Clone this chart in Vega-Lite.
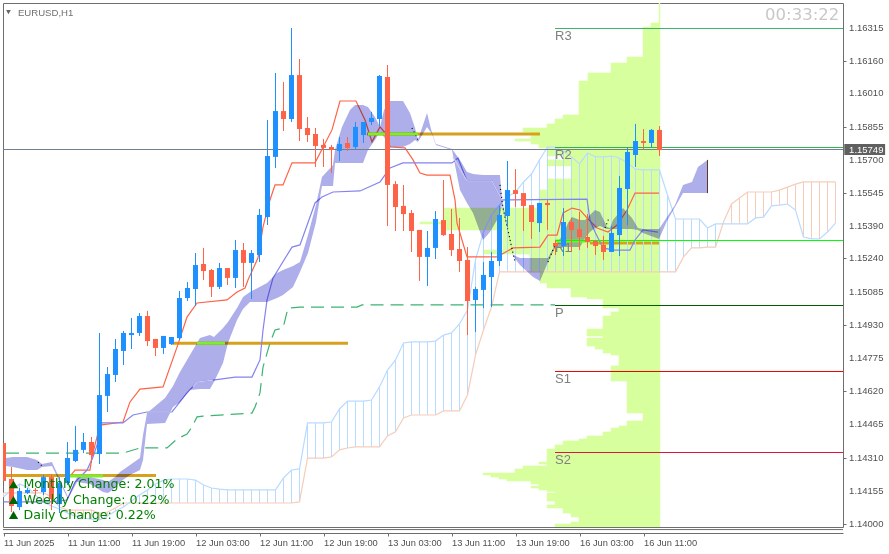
{
  "$schema": "https://vega.github.io/schema/vega-lite/v6.json",
  "width": 840,
  "height": 524,
  "autosize": {"type": "none"},
  "padding": {"left": 3, "top": 3, "right": 46, "bottom": 27},
  "background": "#ffffff",
  "config": {"view": {"stroke": "#6e6e6e", "strokeWidth": 1}},
  "datasets": {
    "candles": [
      {"i":0,"o":1.14378,"h":1.14378,"l":1.14201,"c":1.14201},
      {"i":1,"o":1.14210,"h":1.14266,"l":1.14056,"c":1.14084},
      {"i":2,"o":1.14079,"h":1.14168,"l":1.14065,"c":1.14154},
      {"i":3,"o":1.14145,"h":1.14168,"l":1.14140,"c":1.14159},
      {"i":4,"o":1.14159,"h":1.14168,"l":1.14135,"c":1.14154},
      {"i":5,"o":1.14149,"h":1.14229,"l":1.14135,"c":1.14219},
      {"i":6,"o":1.14219,"h":1.14233,"l":1.14065,"c":1.14117},
      {"i":7,"o":1.14093,"h":1.14219,"l":1.14051,"c":1.14191},
      {"i":8,"o":1.14191,"h":1.14383,"l":1.14182,"c":1.14308},
      {"i":9,"o":1.14294,"h":1.14458,"l":1.14289,"c":1.14346},
      {"i":10,"o":1.14346,"h":1.14425,"l":1.14331,"c":1.14383},
      {"i":11,"o":1.14383,"h":1.14406,"l":1.14285,"c":1.14322},
      {"i":12,"o":1.14327,"h":1.14892,"l":1.14280,"c":1.14602},
      {"i":13,"o":1.14598,"h":1.14733,"l":1.14523,"c":1.14700},
      {"i":14,"o":1.14696,"h":1.14864,"l":1.14663,"c":1.14817},
      {"i":15,"o":1.14808,"h":1.14901,"l":1.14742,"c":1.14892},
      {"i":16,"o":1.14882,"h":1.14962,"l":1.14817,"c":1.14892},
      {"i":17,"o":1.14892,"h":1.14985,"l":1.14878,"c":1.14971},
      {"i":18,"o":1.14971,"h":1.14995,"l":1.14831,"c":1.14854},
      {"i":19,"o":1.14864,"h":1.14864,"l":1.14784,"c":1.14822},
      {"i":20,"o":1.14822,"h":1.14878,"l":1.14794,"c":1.14878},
      {"i":21,"o":1.14840,"h":1.14873,"l":1.14836,"c":1.14873},
      {"i":22,"o":1.14868,"h":1.15088,"l":1.14859,"c":1.15055},
      {"i":23,"o":1.15055,"h":1.15130,"l":1.15041,"c":1.15102},
      {"i":24,"o":1.15097,"h":1.15265,"l":1.15018,"c":1.15209},
      {"i":25,"o":1.15214,"h":1.15289,"l":1.15139,"c":1.15181},
      {"i":26,"o":1.15186,"h":1.15191,"l":1.15060,"c":1.15107},
      {"i":27,"o":1.15107,"h":1.15219,"l":1.15097,"c":1.15195},
      {"i":28,"o":1.15195,"h":1.15195,"l":1.15116,"c":1.15149},
      {"i":29,"o":1.15149,"h":1.15326,"l":1.15102,"c":1.15279},
      {"i":30,"o":1.15279,"h":1.15312,"l":1.15107,"c":1.15219},
      {"i":31,"o":1.15219,"h":1.15279,"l":1.15051,"c":1.15265},
      {"i":32,"o":1.15256,"h":1.15471,"l":1.15223,"c":1.15443},
      {"i":33,"o":1.15433,"h":1.15886,"l":1.15396,"c":1.15718},
      {"i":34,"o":1.15714,"h":1.16106,"l":1.15662,"c":1.15928},
      {"i":35,"o":1.15928,"h":1.16064,"l":1.15835,"c":1.15891},
      {"i":36,"o":1.15891,"h":1.16316,"l":1.15877,"c":1.16096},
      {"i":37,"o":1.16096,"h":1.16171,"l":1.15788,"c":1.15844},
      {"i":38,"o":1.15849,"h":1.15900,"l":1.15784,"c":1.15816},
      {"i":39,"o":1.15821,"h":1.15849,"l":1.15667,"c":1.15765},
      {"i":40,"o":1.15770,"h":1.15798,"l":1.15667,"c":1.15756},
      {"i":41,"o":1.15760,"h":1.15770,"l":1.15639,"c":1.15746},
      {"i":42,"o":1.15742,"h":1.15807,"l":1.15695,"c":1.15774},
      {"i":43,"o":1.15779,"h":1.15807,"l":1.15742,"c":1.15756},
      {"i":44,"o":1.15760,"h":1.15877,"l":1.15751,"c":1.15854},
      {"i":45,"o":1.15816,"h":1.15877,"l":1.15779,"c":1.15877},
      {"i":46,"o":1.15877,"h":1.15924,"l":1.15863,"c":1.15896},
      {"i":47,"o":1.15891,"h":1.16096,"l":1.15858,"c":1.16092},
      {"i":48,"o":1.16087,"h":1.16143,"l":1.15391,"c":1.15583},
      {"i":49,"o":1.15587,"h":1.15601,"l":1.15368,"c":1.15480},
      {"i":50,"o":1.15485,"h":1.15583,"l":1.15368,"c":1.15447},
      {"i":51,"o":1.15452,"h":1.15466,"l":1.15270,"c":1.15368},
      {"i":52,"o":1.15373,"h":1.15373,"l":1.15135,"c":1.15247},
      {"i":53,"o":1.15247,"h":1.15368,"l":1.15111,"c":1.15289},
      {"i":54,"o":1.15289,"h":1.15461,"l":1.15237,"c":1.15424},
      {"i":55,"o":1.15419,"h":1.15606,"l":1.15345,"c":1.15349},
      {"i":56,"o":1.15354,"h":1.15471,"l":1.15251,"c":1.15279},
      {"i":57,"o":1.15284,"h":1.15429,"l":1.15177,"c":1.15228},
      {"i":58,"o":1.15233,"h":1.15293,"l":1.14882,"c":1.15041},
      {"i":59,"o":1.15046,"h":1.15107,"l":1.14896,"c":1.15097},
      {"i":60,"o":1.15093,"h":1.15223,"l":1.15008,"c":1.15163},
      {"i":61,"o":1.15153,"h":1.15270,"l":1.15013,"c":1.15228},
      {"i":62,"o":1.15228,"h":1.15485,"l":1.15205,"c":1.15443},
      {"i":63,"o":1.15438,"h":1.15695,"l":1.15387,"c":1.15559},
      {"i":64,"o":1.15559,"h":1.15657,"l":1.15480,"c":1.15541},
      {"i":65,"o":1.15545,"h":1.15545,"l":1.15368,"c":1.15485},
      {"i":66,"o":1.15489,"h":1.15489,"l":1.15331,"c":1.15410},
      {"i":67,"o":1.15405,"h":1.15499,"l":1.15363,"c":1.15499},
      {"i":68,"o":1.15499,"h":1.15513,"l":1.15373,"c":1.15489},
      {"i":69,"o":1.15312,"h":1.15326,"l":1.15256,"c":1.15298},
      {"i":70,"o":1.15298,"h":1.15475,"l":1.15251,"c":1.15410},
      {"i":71,"o":1.15410,"h":1.15429,"l":1.15270,"c":1.15373},
      {"i":72,"o":1.15377,"h":1.15457,"l":1.15279,"c":1.15340},
      {"i":73,"o":1.15340,"h":1.15447,"l":1.15289,"c":1.15317},
      {"i":74,"o":1.15321,"h":1.15326,"l":1.15256,"c":1.15298},
      {"i":75,"o":1.15303,"h":1.15345,"l":1.15233,"c":1.15270},
      {"i":76,"o":1.15270,"h":1.15391,"l":1.15270,"c":1.15359},
      {"i":77,"o":1.15349,"h":1.15625,"l":1.15251,"c":1.15569},
      {"i":78,"o":1.15564,"h":1.15756,"l":1.15396,"c":1.15737},
      {"i":79,"o":1.15723,"h":1.15868,"l":1.15667,"c":1.15788},
      {"i":80,"o":1.15788,"h":1.15844,"l":1.15751,"c":1.15779},
      {"i":81,"o":1.15779,"h":1.15844,"l":1.15760,"c":1.15840},
      {"i":82,"o":1.15840,"h":1.15858,"l":1.15718,"c":1.15746}
    ],
    "ichimoku": [
      {"i":0,"a":1.14126,"b":1.14145},{"i":1,"a":1.14159,"b":1.14145},{"i":2,"a":1.14187,"b":1.14145},{"i":3,"a":1.14173,"b":1.14145},
      {"i":4,"a":1.14135,"b":1.14145},{"i":5,"a":1.14103,"b":1.14145},{"i":6,"a":1.14084,"b":1.14126},{"i":7,"a":1.14070,"b":1.14079},
      {"i":8,"a":1.14051,"b":1.14065},{"i":9,"a":1.14037,"b":1.14065},{"i":10,"a":1.14028,"b":1.14065},{"i":11,"a":1.14023,"b":1.14065},
      {"i":12,"a":1.14019,"b":1.14051},{"i":13,"a":1.14037,"b":1.14056},{"i":14,"a":1.14061,"b":1.14075},{"i":15,"a":1.14079,"b":1.14098},
      {"i":16,"a":1.14107,"b":1.14098},{"i":17,"a":1.14135,"b":1.14098},{"i":18,"a":1.14159,"b":1.14098},{"i":19,"a":1.14187,"b":1.14098},
      {"i":20,"a":1.14205,"b":1.14098},{"i":21,"a":1.14210,"b":1.14098},{"i":22,"a":1.14210,"b":1.14098},{"i":23,"a":1.14210,"b":1.14098},
      {"i":24,"a":1.14205,"b":1.14098},{"i":25,"a":1.14182,"b":1.14098},{"i":26,"a":1.14168,"b":1.14098},{"i":27,"a":1.14163,"b":1.14098},
      {"i":28,"a":1.14159,"b":1.14098},{"i":29,"a":1.14159,"b":1.14098},{"i":30,"a":1.14159,"b":1.14098},{"i":31,"a":1.14159,"b":1.14098},
      {"i":32,"a":1.14159,"b":1.14098},{"i":33,"a":1.14159,"b":1.14098},{"i":34,"a":1.14159,"b":1.14098},{"i":35,"a":1.14215,"b":1.14098},
      {"i":36,"a":1.14252,"b":1.14098},{"i":37,"a":1.14257,"b":1.14103},{"i":38,"a":1.14472,"b":1.14308},{"i":39,"a":1.14472,"b":1.14308},
      {"i":40,"a":1.14472,"b":1.14308},{"i":41,"a":1.14476,"b":1.14313},{"i":42,"a":1.14537,"b":1.14346},{"i":43,"a":1.14574,"b":1.14355},
      {"i":44,"a":1.14574,"b":1.14360},{"i":45,"a":1.14574,"b":1.14360},{"i":46,"a":1.14579,"b":1.14360},{"i":47,"a":1.14640,"b":1.14360},
      {"i":48,"a":1.14719,"b":1.14411},{"i":49,"a":1.14766,"b":1.14430},{"i":50,"a":1.14845,"b":1.14495},{"i":51,"a":1.14850,"b":1.14509},
      {"i":52,"a":1.14850,"b":1.14509},{"i":53,"a":1.14850,"b":1.14509},{"i":54,"a":1.14854,"b":1.14509},{"i":55,"a":1.14882,"b":1.14528},
      {"i":56,"a":1.14892,"b":1.14528},{"i":57,"a":1.14934,"b":1.14528},{"i":58,"a":1.14999,"b":1.14602},{"i":59,"a":1.15233,"b":1.14789},
      {"i":60,"a":1.15363,"b":1.14906},{"i":61,"a":1.15443,"b":1.15013},{"i":62,"a":1.15489,"b":1.15177},{"i":63,"a":1.15527,"b":1.15177},
      {"i":64,"a":1.15550,"b":1.15177},{"i":65,"a":1.15597,"b":1.15177},{"i":66,"a":1.15634,"b":1.15177},{"i":67,"a":1.15700,"b":1.15177},
      {"i":68,"a":1.15760,"b":1.15177},{"i":69,"a":1.15760,"b":1.15177},{"i":70,"a":1.15742,"b":1.15177},{"i":71,"a":1.15714,"b":1.15177},
      {"i":72,"a":1.15681,"b":1.15177},{"i":73,"a":1.15732,"b":1.15177},{"i":74,"a":1.15714,"b":1.15177},{"i":75,"a":1.15714,"b":1.15177},
      {"i":76,"a":1.15718,"b":1.15177},{"i":77,"a":1.15709,"b":1.15177},{"i":78,"a":1.15686,"b":1.15177},{"i":79,"a":1.15657,"b":1.15177},
      {"i":80,"a":1.15653,"b":1.15177},{"i":81,"a":1.15653,"b":1.15177},{"i":82,"a":1.15653,"b":1.15177},{"i":83,"a":1.15536,"b":1.15177},
      {"i":84,"a":1.15424,"b":1.15177},{"i":85,"a":1.15424,"b":1.15247},{"i":86,"a":1.15424,"b":1.15289},{"i":87,"a":1.15424,"b":1.15289},
      {"i":88,"a":1.15382,"b":1.15293},{"i":89,"a":1.15401,"b":1.15293},{"i":90,"a":1.15401,"b":1.15410},{"i":91,"a":1.15401,"b":1.15494},
      {"i":92,"a":1.15401,"b":1.15522},{"i":93,"a":1.15401,"b":1.15550},{"i":94,"a":1.15429,"b":1.15550},{"i":95,"a":1.15433,"b":1.15550},
      {"i":96,"a":1.15485,"b":1.15550},{"i":97,"a":1.15489,"b":1.15559},{"i":98,"a":1.15494,"b":1.15573},{"i":99,"a":1.15466,"b":1.15587},
      {"i":100,"a":1.15340,"b":1.15597},{"i":101,"a":1.15331,"b":1.15597},{"i":102,"a":1.15331,"b":1.15597},{"i":103,"a":1.15363,"b":1.15597},
      {"i":104,"a":1.15405,"b":1.15597}
    ],
    "cloud": [
      {"x":0.31,"top":1.14308,"bot":1.14271},{"x":1.19,"top":1.14313,"bot":1.14266},{"x":2.94,"top":1.14313,"bot":1.14252},
      {"x":4.19,"top":1.14299,"bot":1.14252},{"x":4.81,"top":1.14280,"bot":1.14266},{"x":6.06,"top":1.14289,"bot":1.14271},
      {"x":8.06,"top":1.14126,"bot":1.14117},{"x":9.19,"top":1.14219,"bot":1.14196},{"x":10.81,"top":1.14219,"bot":1.14187},
      {"x":12.44,"top":1.14205,"bot":1.14149},{"x":13.06,"top":1.14196,"bot":1.14145},{"x":13.94,"top":1.14219,"bot":1.14168},
      {"x":14.56,"top":1.14243,"bot":1.14196},{"x":15.81,"top":1.14275,"bot":1.14229},{"x":17.06,"top":1.14308,"bot":1.14252},
      {"x":17.44,"top":1.14416,"bot":1.14299},{"x":17.94,"top":1.14518,"bot":1.14467},{"x":20.19,"top":1.14588,"bot":1.14472},
      {"x":21.19,"top":1.14644,"bot":1.14546},{"x":22.06,"top":1.14710,"bot":1.14570},{"x":23.31,"top":1.14789,"bot":1.14626},
      {"x":24.56,"top":1.14868,"bot":1.14630},{"x":25.81,"top":1.14882,"bot":1.14630},{"x":26.31,"top":1.14873,"bot":1.14663},
      {"x":27.44,"top":1.14915,"bot":1.14752},{"x":28.06,"top":1.14943,"bot":1.14845},{"x":29.19,"top":1.15008,"bot":1.14952},
      {"x":29.94,"top":1.15060,"bot":1.15004},{"x":30.81,"top":1.15083,"bot":1.15037},{"x":32.94,"top":1.15125,"bot":1.15037},
      {"x":34.19,"top":1.15172,"bot":1.15055},{"x":34.94,"top":1.15186,"bot":1.15069},{"x":36.19,"top":1.15205,"bot":1.15107},
      {"x":37.06,"top":1.15223,"bot":1.15177},{"x":38.06,"top":1.15349,"bot":1.15265},{"x":39.06,"top":1.15489,"bot":1.15410},
      {"x":39.81,"top":1.15620,"bot":1.15578},{"x":41.19,"top":1.15676,"bot":1.15578},{"x":41.44,"top":1.15746,"bot":1.15686},
      {"x":42.31,"top":1.15854,"bot":1.15686},{"x":43.31,"top":1.15933,"bot":1.15686},{"x":43.94,"top":1.15956,"bot":1.15686},
      {"x":44.94,"top":1.15956,"bot":1.15686},{"x":45.56,"top":1.15947,"bot":1.15746},{"x":46.44,"top":1.15900,"bot":1.15793},
      {"x":47.06,"top":1.15854,"bot":1.15830},{"x":47.56,"top":1.15933,"bot":1.15807},{"x":48.31,"top":1.15975,"bot":1.15760},
      {"x":49.94,"top":1.15975,"bot":1.15760},{"x":50.81,"top":1.15919,"bot":1.15774},{"x":51.44,"top":1.15849,"bot":1.15793},
      {"x":51.81,"top":1.15793,"bot":1.15784},{"x":52.94,"top":1.15919,"bot":1.15854},{"x":53.56,"top":1.15826,"bot":1.15821},
      {"x":54.06,"top":1.15774,"bot":1.15770},{"x":56.06,"top":1.15751,"bot":1.15746},{"x":57.06,"top":1.15700,"bot":1.15559},
      {"x":57.94,"top":1.15643,"bot":1.15499},{"x":58.69,"top":1.15634,"bot":1.15452},{"x":59.94,"top":1.15629,"bot":1.15326},
      {"x":60.81,"top":1.15629,"bot":1.15363},{"x":62.06,"top":1.15629,"bot":1.15443},{"x":62.31,"top":1.15513,"bot":1.15489},
      {"x":62.94,"top":1.15396,"bot":1.15387},{"x":63.69,"top":1.15256,"bot":1.15251},{"x":64.56,"top":1.15242,"bot":1.15209},
      {"x":66.19,"top":1.15242,"bot":1.15153},{"x":67.06,"top":1.15242,"bot":1.15135},{"x":68.06,"top":1.15242,"bot":1.15223},
      {"x":68.94,"top":1.15303,"bot":1.15289},{"x":69.94,"top":1.15349,"bot":1.15293},{"x":70.56,"top":1.15405,"bot":1.15293},
      {"x":71.06,"top":1.15433,"bot":1.15293},{"x":72.06,"top":1.15419,"bot":1.15293},{"x":72.69,"top":1.15419,"bot":1.15335},
      {"x":73.31,"top":1.15443,"bot":1.15363},{"x":73.94,"top":1.15466,"bot":1.15382},{"x":74.56,"top":1.15457,"bot":1.15391},
      {"x":75.44,"top":1.15387,"bot":1.15377},{"x":75.81,"top":1.15382,"bot":1.15377},{"x":76.19,"top":1.15419,"bot":1.15377},
      {"x":77.44,"top":1.15475,"bot":1.15377},{"x":78.56,"top":1.15429,"bot":1.15377},{"x":79.31,"top":1.15382,"bot":1.15373},
      {"x":79.94,"top":1.15377,"bot":1.15359},{"x":81.94,"top":1.15377,"bot":1.15331},{"x":82.94,"top":1.15433,"bot":1.15415},
      {"x":83.94,"top":1.15489,"bot":1.15480},{"x":84.94,"top":1.15583,"bot":1.15545},{"x":86.06,"top":1.15597,"bot":1.15545},
      {"x":86.81,"top":1.15667,"bot":1.15545},{"x":88.0,"top":1.15700,"bot":1.15545}
    ],
    "profile": [
      {"hi":1.16433,"lo":1.16339,"from":81.94},{"hi":1.16339,"lo":1.16320,"from":80.94},{"hi":1.16320,"lo":1.16180,"from":79.94},
      {"hi":1.16180,"lo":1.16152,"from":77.94},{"hi":1.16152,"lo":1.16106,"from":75.94},{"hi":1.16106,"lo":1.16068,"from":73.06},
      {"hi":1.16068,"lo":1.15910,"from":71.94},{"hi":1.15910,"lo":1.15891,"from":69.94},{"hi":1.15891,"lo":1.15868,"from":68.94},
      {"hi":1.15868,"lo":1.15849,"from":67.94},{"hi":1.15849,"lo":1.15830,"from":64.94},{"hi":1.15830,"lo":1.15798,"from":65.94},
      {"hi":1.15798,"lo":1.15788,"from":63.94},{"hi":1.15788,"lo":1.15774,"from":65.94},{"hi":1.15774,"lo":1.15756,"from":66.94},
      {"hi":1.15756,"lo":1.15718,"from":67.94},{"hi":1.15718,"lo":1.15700,"from":69.94},{"hi":1.15700,"lo":1.15672,"from":67.94},
      {"hi":1.15672,"lo":1.15611,"from":70.94},{"hi":1.15611,"lo":1.15559,"from":67.94},{"hi":1.15559,"lo":1.15475,"from":66.94},
      {"hi":1.15475,"lo":1.15410,"from":55.06},{"hi":1.15410,"lo":1.15401,"from":52.06},{"hi":1.15401,"lo":1.15373,"from":55.06},
      {"hi":1.15373,"lo":1.15279,"from":62.44},{"hi":1.15279,"lo":1.15261,"from":59.94},{"hi":1.15261,"lo":1.15177,"from":65.81},
      {"hi":1.15177,"lo":1.15125,"from":67.06},
      {"hi":1.15125,"lo":1.15102,"from":67.94},{"hi":1.15102,"lo":1.15060,"from":70.94},{"hi":1.15060,"lo":1.15051,"from":72.94},
      {"hi":1.15051,"lo":1.15008,"from":74.94},{"hi":1.15008,"lo":1.14990,"from":76.94},{"hi":1.14990,"lo":1.14971,"from":75.94},
      {"hi":1.14971,"lo":1.14910,"from":74.94},{"hi":1.14910,"lo":1.14878,"from":72.94},{"hi":1.14878,"lo":1.14868,"from":74.94},
      {"hi":1.14868,"lo":1.14831,"from":72.94},{"hi":1.14831,"lo":1.14817,"from":73.94},{"hi":1.14817,"lo":1.14798,"from":74.94},
      {"hi":1.14798,"lo":1.14789,"from":75.94},{"hi":1.14789,"lo":1.14738,"from":76.94},{"hi":1.14738,"lo":1.14668,"from":75.94},
      {"hi":1.14668,"lo":1.14518,"from":77.94},{"hi":1.14518,"lo":1.14481,"from":79.94},{"hi":1.14481,"lo":1.14458,"from":77.94},
      {"hi":1.14458,"lo":1.14448,"from":76.94},{"hi":1.14448,"lo":1.14430,"from":75.94},{"hi":1.14430,"lo":1.14411,"from":74.94},
      {"hi":1.14411,"lo":1.14397,"from":72.94},{"hi":1.14397,"lo":1.14388,"from":71.94},{"hi":1.14388,"lo":1.14369,"from":69.94},
      {"hi":1.14369,"lo":1.14350,"from":68.94},{"hi":1.14350,"lo":1.14289,"from":67.94},{"hi":1.14289,"lo":1.14280,"from":66.94},
      {"hi":1.14280,"lo":1.14271,"from":67.94},{"hi":1.14271,"lo":1.14257,"from":64.94},{"hi":1.14257,"lo":1.14238,"from":63.94},
      {"hi":1.14238,"lo":1.14229,"from":59.94},{"hi":1.14229,"lo":1.14219,"from":60.94},{"hi":1.14219,"lo":1.14210,"from":61.94},
      {"hi":1.14210,"lo":1.14201,"from":62.94},{"hi":1.14201,"lo":1.14187,"from":65.94},{"hi":1.14187,"lo":1.14177,"from":66.94},
      {"hi":1.14177,"lo":1.14168,"from":65.94},{"hi":1.14168,"lo":1.14159,"from":66.94},{"hi":1.14159,"lo":1.14152,"from":67.94},
      {"hi":1.14152,"lo":1.14145,"from":68.94},{"hi":1.14145,"lo":1.14107,"from":67.94},{"hi":1.14107,"lo":1.14089,"from":68.94},
      {"hi":1.14089,"lo":1.14075,"from":67.94},{"hi":1.14075,"lo":1.14051,"from":69.94},{"hi":1.14051,"lo":1.14033,"from":70.94},
      {"hi":1.14033,"lo":1.14009,"from":71.94},{"hi":1.14009,"lo":1.14000,"from":70.94},{"hi":1.14000,"lo":1.13986,"from":68.94}
    ],
    "lines": [
      {"s":"tenkan","x":7.94,"p":1.14205},{"s":"tenkan","x":8.94,"p":1.14252},{"s":"tenkan","x":10.81,"p":1.14252},{"s":"tenkan","x":11.06,"p":1.14313},
      {"s":"tenkan","x":12.06,"p":1.14462},{"s":"tenkan","x":14.94,"p":1.14476},{"s":"tenkan","x":15.81,"p":1.14570},{"s":"tenkan","x":17.06,"p":1.14630},
      {"s":"tenkan","x":19.94,"p":1.14640},{"s":"tenkan","x":21.69,"p":1.14826},{"s":"tenkan","x":22.94,"p":1.14966},{"s":"tenkan","x":24.19,"p":1.15032},
      {"s":"tenkan","x":27.94,"p":1.15046},{"s":"tenkan","x":29.19,"p":1.15083},{"s":"tenkan","x":30.19,"p":1.15102},{"s":"tenkan","x":30.56,"p":1.15139},
      {"s":"tenkan","x":31.81,"p":1.15242},{"s":"tenkan","x":32.44,"p":1.15387},{"s":"tenkan","x":33.31,"p":1.15513},{"s":"tenkan","x":33.94,"p":1.15583},
      {"s":"tenkan","x":34.94,"p":1.15583},{"s":"tenkan","x":36.06,"p":1.15686},{"s":"tenkan","x":38.94,"p":1.15686},{"s":"tenkan","x":41.06,"p":1.15840},
      {"s":"tenkan","x":42.06,"p":1.15975},{"s":"tenkan","x":44.06,"p":1.15975},{"s":"tenkan","x":45.19,"p":1.15886},{"s":"tenkan","x":46.06,"p":1.15784},
      {"s":"tenkan","x":47.06,"p":1.15854},{"s":"tenkan","x":47.94,"p":1.15816},{"s":"tenkan","x":48.31,"p":1.15760},{"s":"tenkan","x":50.19,"p":1.15756},
      {"s":"tenkan","x":51.19,"p":1.15700},{"s":"tenkan","x":52.06,"p":1.15639},{"s":"tenkan","x":52.94,"p":1.15629},{"s":"tenkan","x":55.81,"p":1.15629},
      {"s":"tenkan","x":56.44,"p":1.15513},{"s":"tenkan","x":56.69,"p":1.15405},{"s":"tenkan","x":57.94,"p":1.15247},{"s":"tenkan","x":61.69,"p":1.15247},
      {"s":"tenkan","x":63.69,"p":1.15289},{"s":"tenkan","x":67.06,"p":1.15293},{"s":"tenkan","x":68.06,"p":1.15349},{"s":"tenkan","x":69.19,"p":1.15349},
      {"s":"tenkan","x":69.94,"p":1.15452},{"s":"tenkan","x":71.06,"p":1.15475},{"s":"tenkan","x":72.06,"p":1.15466},{"s":"tenkan","x":72.94,"p":1.15429},
      {"s":"tenkan","x":74.19,"p":1.15382},{"s":"tenkan","x":75.56,"p":1.15363},{"s":"tenkan","x":76.69,"p":1.15396},{"s":"tenkan","x":77.94,"p":1.15466},
      {"s":"tenkan","x":78.94,"p":1.15545},{"s":"tenkan","x":81.94,"p":1.15545},
      {"s":"kijun","x":0,"p":1.14103},{"s":"kijun","x":5.81,"p":1.14103},{"s":"kijun","x":7.94,"p":1.14112},{"s":"kijun","x":8.94,"p":1.14196},
      {"s":"kijun","x":10.44,"p":1.14252},{"s":"kijun","x":11.19,"p":1.14313},{"s":"kijun","x":11.69,"p":1.14369},{"s":"kijun","x":12.31,"p":1.14472},
      {"s":"kijun","x":14.94,"p":1.14472},{"s":"kijun","x":16.19,"p":1.14509},{"s":"kijun","x":17.94,"p":1.14523},{"s":"kijun","x":21.06,"p":1.14523},
      {"s":"kijun","x":22.94,"p":1.14612},{"s":"kijun","x":24.19,"p":1.14663},{"s":"kijun","x":26.19,"p":1.14672},{"s":"kijun","x":28.94,"p":1.14686},
      {"s":"kijun","x":31.06,"p":1.14686},{"s":"kijun","x":32.06,"p":1.14766},{"s":"kijun","x":32.44,"p":1.14906},{"s":"kijun","x":32.94,"p":1.15046},
      {"s":"kijun","x":33.69,"p":1.15149},{"s":"kijun","x":36.06,"p":1.15293},{"s":"kijun","x":37.06,"p":1.15303},{"s":"kijun","x":38.94,"p":1.15499},
      {"s":"kijun","x":39.81,"p":1.15527},{"s":"kijun","x":41.19,"p":1.15550},{"s":"kijun","x":44.56,"p":1.15555},{"s":"kijun","x":47.06,"p":1.15597},
      {"s":"kijun","x":48.31,"p":1.15662},{"s":"kijun","x":49.94,"p":1.15686},{"s":"kijun","x":56.06,"p":1.15686},{"s":"kijun","x":56.81,"p":1.15709},
      {"s":"kijun","x":57.94,"p":1.15601},{"s":"kijun","x":61.06,"p":1.15601},{"s":"kijun","x":62.31,"p":1.15513},{"s":"kijun","x":72.94,"p":1.15517},{"s":"kijun","x":73.31,"p":1.15419},
      {"s":"kijun","x":73.94,"p":1.15363},{"s":"kijun","x":74.94,"p":1.15289},{"s":"kijun","x":76.19,"p":1.15279},{"s":"kijun","x":78.31,"p":1.15279},
      {"s":"kijun","x":78.94,"p":1.15326},{"s":"kijun","x":79.94,"p":1.15373},{"s":"kijun","x":81.81,"p":1.15363}
    ],
    "kijuncloud": [
      {"seg":"A","x":17.94,"p":1.14523},{"seg":"A","x":21.06,"p":1.14523},
      {"seg":"B","x":23.69,"p":1.14640},{"seg":"B","x":24.19,"p":1.14663},{"seg":"B","x":26.19,"p":1.14672},
      {"seg":"C","x":56.19,"p":1.15714},{"seg":"C","x":57.94,"p":1.15601},{"seg":"C","x":61.06,"p":1.15601},{"seg":"C","x":62.31,"p":1.15513}
    ],
    "longkijun": [
      {"x":0.31,"p":1.14331},{"x":14.94,"p":1.14331},{"x":17.06,"p":1.14355},{"x":20.44,"p":1.14355},{"x":21.69,"p":1.14397},{"x":22.94,"p":1.14420},
      {"x":23.56,"p":1.14453},{"x":24.19,"p":1.14500},{"x":24.94,"p":1.14504},{"x":31.06,"p":1.14518},{"x":31.44,"p":1.14546},{"x":32.06,"p":1.14612},
      {"x":32.44,"p":1.14733},{"x":33.31,"p":1.14845},{"x":33.94,"p":1.14906},{"x":34.94,"p":1.14915},{"x":35.56,"p":1.15008},{"x":37.06,"p":1.15013},
      {"x":44.19,"p":1.15013},{"x":44.81,"p":1.15023},{"x":68.94,"p":1.15023}
    ],
    "twist": [
      {"seg":"A","x":4.31,"p":1.14289},{"seg":"A","x":4.81,"p":1.14271},
      {"seg":"B","x":51.06,"p":1.15849},{"seg":"B","x":51.81,"p":1.15793},
      {"seg":"C","x":62.06,"p":1.15583},{"seg":"C","x":62.44,"p":1.15475},{"seg":"C","x":62.94,"p":1.15391},{"seg":"C","x":63.94,"p":1.15223},
      {"seg":"D","x":68.06,"p":1.15223},{"seg":"D","x":68.94,"p":1.15303},
      {"seg":"E","x":75.19,"p":1.15382},{"seg":"E","x":75.69,"p":1.15429}
    ],
    "gold": [
      {"x0":0,"x1":19.06,"p":1.14227},{"x0":21.06,"x1":43.06,"p":1.14844},{"x0":45.44,"x1":67.06,"p":1.15821},{"x0":73.31,"x1":82.06,"p":1.15312}
    ],
    "lime": [
      {"x0":8.31,"x1":12.44,"p":1.14224},{"x0":24.19,"x1":27.69,"p":1.14844},{"x0":45.56,"x1":51.81,"p":1.15821},{"x0":68.94,"x1":73.31,"p":1.15321}
    ],
    "pivots": [
      {"name":"R3","p":1.163135,"color":"#3cb371"},
      {"name":"R2","p":1.157579,"color":"#32b34b"},
      {"name":"R1","p":1.153237,"color":"#00ff00"},
      {"name":"P","p":1.150202,"color":"#005a00"},
      {"name":"S1","p":1.147121,"color":"#e60000"},
      {"name":"S2","p":1.143339,"color":"#dc143c"}
    ],
    "changes": [
      {"label":"Monthly Change: 2.01%","p":1.14185,"m":1.25},
      {"label":"Weekly Change: 0.22%","p":1.14112,"m":1.25},
      {"label":"Daily Change: 0.22%","p":1.14042,"m":1.25}
    ],
    "yticks": [
      {"p":1.16315},{"p":1.1616},{"p":1.1601},{"p":1.15855},{"p":1.157},{"p":1.15545},{"p":1.1539},{"p":1.1524},
      {"p":1.15085},{"p":1.1493},{"p":1.14775},{"p":1.1462},{"p":1.14465},{"p":1.1431},{"p":1.14155},{"p":1.14}
    ]
  },
  "layer": [
    {
      "data": {"name": "profile"},
      "mark": {"type": "rect", "color": "#d8ff9e", "stroke": "#d8ff9e", "strokeWidth": 0.6, "clip": true},
      "encoding": {
        "x": {
          "field": "from",
          "type": "quantitative",
          "scale": {"domain": [-0.0625, 104.9375], "nice": false, "zero": false, "padding": 0},
          "axis": {
            "title": null,
            "values": [0, 8, 16, 24, 32, 40, 48, 56, 64, 72, 80],
            "labelExpr": "['11 Jun 2025','11 Jun 11:00','11 Jun 19:00','12 Jun 03:00','12 Jun 11:00','12 Jun 19:00','13 Jun 03:00','13 Jun 11:00','13 Jun 19:00','16 Jun 03:00','16 Jun 11:00'][datum.value / 8]",
            "grid": false,
            "offset": 6,
            "domainColor": "#6e6e6e",
            "tickColor": "#6e6e6e",
            "tickSize": 3,
            "labelAlign": "left",
            "labelBaseline": "top",
            "labelPadding": 2,
            "labelFlush": false,
            "labelFont": "Liberation Sans",
            "labelFontSize": 9.3,
            "labelColor": "#505050",
            "labelAngle": 0
          }
        },
        "x2": {"datum": 82.06},
        "y": {
          "field": "hi",
          "type": "quantitative",
          "scale": {"domain": [1.13986, 1.164325], "nice": false, "zero": false, "padding": 0},
          "axis": {
            "title": null,
            "orient": "right",
            "values": [1.16315, 1.1616, 1.1601, 1.15855, 1.157, 1.15545, 1.1539, 1.1524, 1.15085, 1.1493, 1.14775, 1.1462, 1.14465, 1.1431, 1.14155, 1.14],
            "labels": false,
            "grid": false,
            "domain": false,
            "tickColor": "#6e6e6e",
            "tickSize": 3
          }
        },
        "y2": {"field": "lo"}
      }
    },
    {
      "data": {"name": "gold"},
      "mark": {"type": "rule", "color": "#d6a11c", "strokeWidth": 3},
      "encoding": {
        "x": {"field": "x0", "type": "quantitative"},
        "x2": {"field": "x1"},
        "y": {"field": "p", "type": "quantitative"}
      }
    },
    {
      "data": {"name": "ichimoku"},
      "mark": {"type": "rule", "strokeWidth": 1},
      "encoding": {
        "x": {"field": "i", "type": "quantitative"},
        "y": {"field": "a", "type": "quantitative"},
        "y2": {"field": "b"},
        "color": {"condition": {"test": "datum.a >= datum.b", "value": "#b9dbff"}, "value": "#f5cdbb"}
      }
    },
    {
      "data": {"name": "ichimoku"},
      "mark": {"type": "line", "color": "#f5cdbb", "strokeWidth": 1.2},
      "encoding": {
        "x": {"field": "i", "type": "quantitative"},
        "y": {"field": "b", "type": "quantitative"}
      }
    },
    {
      "data": {"name": "ichimoku"},
      "mark": {"type": "line", "color": "#b9dbff", "strokeWidth": 1.2},
      "encoding": {
        "x": {"field": "i", "type": "quantitative"},
        "y": {"field": "a", "type": "quantitative"}
      }
    },
    {
      "data": {"name": "longkijun"},
      "mark": {"type": "line", "color": "#3cb371", "strokeWidth": 1.2, "strokeDash": [13, 7]},
      "encoding": {
        "x": {"field": "x", "type": "quantitative"},
        "y": {"field": "p", "type": "quantitative"}
      }
    },
    {
      "data": {"name": "lines"},
      "mark": {"type": "line", "strokeWidth": 1.2},
      "encoding": {
        "x": {"field": "x", "type": "quantitative"},
        "y": {"field": "p", "type": "quantitative"},
        "color": {
          "field": "s",
          "type": "nominal",
          "scale": {"domain": ["tenkan", "kijun"], "range": ["#ff6347", "#8484f0"]},
          "legend": null
        }
      }
    },
    {
      "data": {"name": "cloud"},
      "mark": {"type": "area", "color": "#aeaeea", "opacity": 1, "blend": "multiply"},
      "encoding": {
        "x": {"field": "x", "type": "quantitative"},
        "y": {"field": "top", "type": "quantitative"},
        "y2": {"field": "bot"}
      }
    },
    {
      "data": {"name": "kijuncloud"},
      "mark": {"type": "line", "color": "#cbcbf3", "strokeWidth": 1.3},
      "encoding": {
        "x": {"field": "x", "type": "quantitative"},
        "y": {"field": "p", "type": "quantitative"},
        "detail": {"field": "seg"}
      }
    },
    {
      "data": {"name": "twist"},
      "mark": {"type": "line", "color": "#000000", "strokeWidth": 1.2, "strokeDash": [1, 3]},
      "encoding": {
        "x": {"field": "x", "type": "quantitative"},
        "y": {"field": "p", "type": "quantitative"},
        "detail": {"field": "seg"}
      }
    },
    {
      "data": {"name": "lime"},
      "mark": {"type": "rule", "color": "#7fee2a", "strokeWidth": 3},
      "encoding": {
        "x": {"field": "x0", "type": "quantitative"},
        "x2": {"field": "x1"},
        "y": {"field": "p", "type": "quantitative"}
      }
    },
    {
      "data": {"name": "pivots"},
      "mark": {"type": "rule", "strokeWidth": 1},
      "encoding": {
        "x": {"datum": 68.94, "type": "quantitative"},
        "x2": {"datum": 104.9375},
        "y": {"field": "p", "type": "quantitative"},
        "color": {"field": "color", "type": "nominal", "scale": null}
      }
    },
    {
      "data": {"name": "pivots"},
      "mark": {"type": "text", "align": "left", "baseline": "middle", "dy": 8, "font": "Liberation Sans", "fontSize": 13, "color": "#808080"},
      "encoding": {
        "x": {"datum": 68.94, "type": "quantitative"},
        "y": {"field": "p", "type": "quantitative"},
        "text": {"field": "name"}
      }
    },
    {
      "data": {"values": [{"p": 1.157485}]},
      "mark": {"type": "rule", "color": "#708090", "strokeWidth": 1},
      "encoding": {
        "x": {"datum": -0.0625, "type": "quantitative"},
        "x2": {"datum": 104.9375},
        "y": {"field": "p", "type": "quantitative"}
      }
    },
    {
      "data": {"values": [{"x": 88, "hi": 1.157, "lo": 1.15545}]},
      "mark": {"type": "rule", "color": "#5b3a29", "strokeWidth": 1},
      "encoding": {
        "x": {"field": "x", "type": "quantitative"},
        "y": {"field": "hi", "type": "quantitative"},
        "y2": {"field": "lo"}
      }
    },
    {
      "data": {"name": "candles"},
      "mark": {"type": "rule", "strokeWidth": 1, "clip": true},
      "encoding": {
        "x": {"field": "i", "type": "quantitative"},
        "y": {"field": "h", "type": "quantitative"},
        "y2": {"field": "l"},
        "color": {"condition": {"test": "datum.c >= datum.o", "value": "#1e90ff"}, "value": "#ff6347"}
      }
    },
    {
      "data": {"name": "candles"},
      "mark": {"type": "bar", "size": 5, "clip": true},
      "encoding": {
        "x": {"field": "i", "type": "quantitative"},
        "y": {"field": "o", "type": "quantitative"},
        "y2": {"field": "c"},
        "color": {"condition": {"test": "datum.c >= datum.o", "value": "#1e90ff"}, "value": "#ff6347"}
      }
    },
    {
      "data": {"name": "changes"},
      "mark": {"type": "point", "shape": "triangle-up", "filled": true, "opacity": 1, "size": 85, "color": "#006400"},
      "encoding": {
        "x": {"field": "m", "type": "quantitative"},
        "y": {"field": "p", "type": "quantitative"}
      }
    },
    {
      "data": {"name": "changes"},
      "mark": {"type": "text", "align": "left", "baseline": "middle", "dx": 10, "font": "DejaVu Sans", "fontSize": 12.6, "color": "#008000"},
      "encoding": {
        "x": {"field": "m", "type": "quantitative"},
        "y": {"field": "p", "type": "quantitative"},
        "text": {"field": "label"}
      }
    },
    {
      "data": {"values": [{"label": "00:33:22", "x": 95.2, "p": 1.16377}]},
      "mark": {"type": "text", "align": "left", "baseline": "middle", "font": "DejaVu Sans", "fontSize": 16.5, "color": "#c8c8c8"},
      "encoding": {
        "x": {"field": "x", "type": "quantitative"},
        "y": {"field": "p", "type": "quantitative"},
        "text": {"field": "label"}
      }
    },
    {
      "data": {"values": [{"label": "EURUSD,H1", "x": 1.8, "p": 1.16386}]},
      "mark": {"type": "text", "align": "left", "baseline": "middle", "font": "Liberation Sans", "fontSize": 9.6, "color": "#707070"},
      "encoding": {
        "x": {"field": "x", "type": "quantitative"},
        "y": {"field": "p", "type": "quantitative"},
        "text": {"field": "label"}
      }
    },
    {
      "data": {"values": [{"x": 0.62, "p": 1.1639}]},
      "mark": {"type": "point", "shape": "triangle-down", "filled": true, "opacity": 1, "size": 22, "color": "#666666"},
      "encoding": {
        "x": {"field": "x", "type": "quantitative"},
        "y": {"field": "p", "type": "quantitative"}
      }
    },
    {
      "data": {"values": [{"x0": -0.0625, "x1": 104.9375, "p": 1.13974}]},
      "mark": {"type": "rule", "color": "#6e6e6e", "strokeWidth": 1},
      "encoding": {
        "x": {"field": "x0", "type": "quantitative"},
        "x2": {"field": "x1"},
        "y": {"field": "p", "type": "quantitative"}
      }
    },
    {
      "data": {"values": [{"x0": 105.1, "x1": 110.2, "p": 1.157485}]},
      "mark": {"type": "rule", "color": "#606060", "strokeWidth": 11},
      "encoding": {
        "x": {"field": "x0", "type": "quantitative"},
        "x2": {"field": "x1"},
        "y": {"field": "p", "type": "quantitative"}
      }
    },
    {
      "data": {"values": [{"label": "1.15749", "x": 105.7, "p": 1.157485}]},
      "mark": {"type": "text", "align": "left", "baseline": "middle", "font": "Liberation Sans", "fontSize": 9.5, "color": "#ffffff"},
      "encoding": {
        "x": {"field": "x", "type": "quantitative"},
        "y": {"field": "p", "type": "quantitative"},
        "text": {"field": "label"}
      }
    },
    {
      "data": {"name": "yticks"},
      "mark": {"type": "text", "align": "left", "baseline": "middle", "font": "Liberation Sans", "fontSize": 9.5, "color": "#505050"},
      "encoding": {
        "x": {"datum": 105.7, "type": "quantitative"},
        "y": {"field": "p", "type": "quantitative"},
        "text": {"field": "p", "type": "quantitative", "format": ".5f"}
      }
    }
  ]
}
